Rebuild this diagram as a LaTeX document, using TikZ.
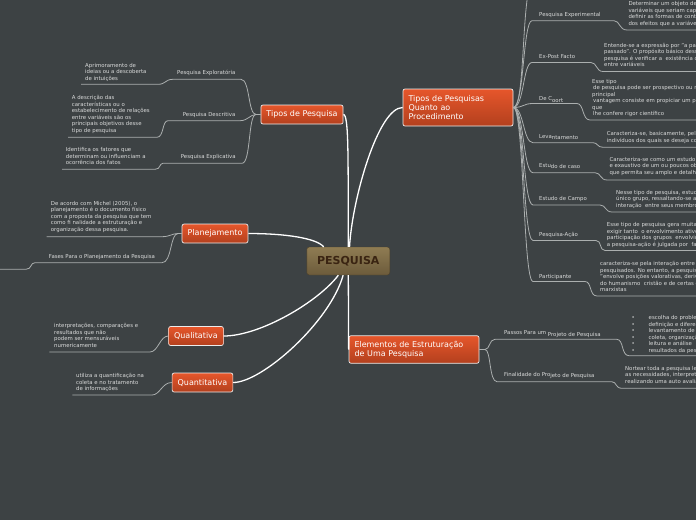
\documentclass[tikz,border=0pt]{standalone}
\usepackage{fontspec}
\setmainfont{DejaVu Sans}
\usepackage{tikz}
\usetikzlibrary{positioning}

\definecolor{slate}{HTML}{3D4244}
\definecolor{twigcol}{HTML}{ABAFAF}
\definecolor{notecol}{HTML}{D9DADA}
\definecolor{rustTop}{HTML}{E6562B}
\definecolor{rustBot}{HTML}{B3401E}
\definecolor{hubTop}{HTML}{8F7C53}
\definecolor{hubBot}{HTML}{6C5B3B}
\definecolor{hubInk}{HTML}{3A2412}

\newcommand{\lowpart}[1]{\raisebox{-1.3pt}{#1}}
\newcommand{\bul}{\makebox[17pt][l]{\textbullet}}

\begin{document}
\begin{tikzpicture}[
    x=1pt, y=-1pt,
    hub/.style={rectangle, draw=hubBot!70!black, rounded corners=2.5pt, top color=hubTop, bottom color=hubBot, minimum width=83pt, minimum height=28pt, font=\fontsize{11}{13}\selectfont\bfseries, text=hubInk},
    topic/.style={rectangle, draw=white!85!gray, line width=0.7pt, rounded corners=2pt, top color=rustTop, bottom color=rustBot, text=white, font=\fontsize{8}{9}\selectfont, inner xsep=5.5pt, minimum height=19pt},
    sublabel/.style={font=\fontsize{5.4}{6.5}\selectfont, text=notecol, inner sep=0pt, anchor=base west},
    notes/.style={sublabel, align=left, text depth=0pt, anchor=south west},
    twig/.style={draw=twigcol, line width=0.8pt},
    limb/.style={draw=white, line width=1.3pt},
]
    \fill[slate] (0,0) rectangle (696,520);
    \useasboundingbox (0,0) rectangle (696,520);
    \clip (0,0) rectangle (696,520);

    % centre and main topics
    \node[hub] (pesquisa) at (348.3,261) {PESQUISA};
    \node[topic] (tipos) at (302,114.5) {Tipos de Pesquisa};
    \node[topic, text width=99pt, align=left, minimum height=37pt] (proced) at (458,107.5) {Tipos de Pesquisas\\Quanto ao\\Procedimento};
    \node[topic] (planej) at (215,233.5) {Planejamento};
    \node[topic] (quali) at (196,336) {Qualitativa};
    \node[topic] (quanti) at (202.5,382.5) {Quantitativa};
    \node[topic, text width=119pt, align=left, minimum height=27.5pt] (elem) at (414,349.5) {Elementos de Estruturação\\de Uma Pesquisa};

    \draw[limb] (pesquisa.north) .. controls (348,160) and (349,114.5) .. (tipos.east);
    \draw[limb] (pesquisa.85) .. controls (352,200) and (378,107.5) .. (proced.west);
    \draw[limb] (planej.east) .. controls (285,233.5) and (316,238) .. (pesquisa.150);
    \draw[limb] (quali.east) .. controls (260,336) and (318,302) .. (pesquisa.235);
    \draw[limb] (quanti.east) .. controls (262,382.5) and (330,322) .. (pesquisa.250);
    \draw[limb] (pesquisa.south) -- (elem.west);

    % Tipos de Pesquisa
    \node[sublabel] (explo) at (177,74.8) {Pesquisa Exploratória};
    \node[notes] (explo-txt) at (85,80.5) {Aprimoramento de\\ideias ou a descoberta\\de intuições};
    \coordinate (explo-end) at (81,84.3);
    \draw[twig] (tipos.west) -- (256,114.5) .. controls (248,114.5) and (250,79.3) .. (241,79.3) -- (173,79.3) .. controls (165,79.3) and (166,84.3) .. (158,84.3) -- (explo-end);

    \node[sublabel] (descr) at (182.7,116.5) {Pesquisa Descritiva};
    \node[notes] (descr-txt) at (71.7,132.2) {A descrição das\\características ou o\\estabelecimento de relações\\entre variáveis são os\\principais objetivos desse\\tipo de pesquisa};
    \coordinate (descr-end) at (68,137.3);
    \draw[twig] (tipos.west) -- (256,114.5) .. controls (250,114.5) and (248,120.7) .. (240,120.7) -- (168,120.7) .. controls (162,120.7) and (164,137.3) .. (157,137.3) -- (descr-end);

    \node[sublabel] (expli) at (180.7,158.8) {Pesquisa Explicativa};
    \node[notes] (expli-txt) at (65.7,164.8) {Identifica os fatores que\\determinam ou influenciam a\\ocorrência dos fatos};
    \coordinate (expli-end) at (62,169.3);
    \draw[twig] (tipos.west) -- (256,114.5) .. controls (248,114.5) and (251,163.3) .. (242,163.3) -- (163,163.3) .. controls (159,163.3) and (161,169.3) .. (155,169.3) -- (expli-end);

    % Planejamento
    \node[notes] (michel-txt) at (50.7,231.5) {De acordo com Michel (2005), o\\planejamento é o documento físico\\com a proposta da pesquisa que tem\\como fi nalidade a estruturação e\\organização dessa pesquisa.};
    \coordinate (michel-end) at (46.7,236.7);
    \draw[twig] (planej.west) -- (178,233.5) .. controls (172,233.5) and (170,236.7) .. (162,236.7) -- (michel-end);

    \node[sublabel] (fases) at (48.7,258.2) {Fases Para o Planejamento da Pesquisa};
    \coordinate (fases-end) at (-5,269.3);
    \draw[twig] (planej.west) -- (178,233.5) .. controls (170,233.5) and (172,262.7) .. (162,262.7) -- (35,262.7) .. controls (30,262.7) and (32,269.3) .. (26,269.3) -- (fases-end);

    % Qualitativa / Quantitativa
    \node[notes] (quali-txt) at (54,347.5) {interpretações, comparações e\\resultados que não\\podem ser mensuráveis\\numericamente};
    \coordinate (quali-end) at (49.3,352);
    \draw[twig] (quali.west) .. controls (160,336) and (158,352) .. (150,352) -- (quali-end);

    \node[notes] (quanti-txt) at (76,390.8) {utiliza a quantificação na\\coleta e no tratamento\\de informações};
    \coordinate (quanti-end) at (72.3,395);
    \draw[twig] (quanti.west) .. controls (162,382.5) and (160,395) .. (152,395) -- (quanti-end);

    % Tipos de Pesquisas Quanto ao Procedimento
    \coordinate (above-end) at (529,-12);
    \draw[twig] (proced.east) .. controls (524,107.5) and (522,20) .. (above-end);

    \node[sublabel] (experim) at (539,16.2) {Pesquisa Experimental};
    \node[notes] (experim-txt) at (628.3,25.5) {Determinar um objeto de estudo, selecionar as\\variáveis que seriam capazes de influenciá-lo,\\definir as formas de controle e de observação\\dos efeitos que a variável produz no objeto.};
    \coordinate (experim-end) at (700,30);
    \draw[twig] (proced.east) .. controls (524,107.5) and (523,20.7) .. (532,20.7) -- (614,20.7) .. controls (620,20.7) and (619,30) .. (627,30) -- (experim-end);

    \node[sublabel] (expost) at (539,58) {Ex-Post Facto};
    \node[notes] (expost-txt) at (604,67) {Entende-se a expressão por "a partir do fato\\passado". O propósito básico desse tipo de\\pesquisa é verificar a~ existência de relações\\entre variáveis};
    \coordinate (expost-end) at (700,71.5);
    \draw[twig] (proced.east) .. controls (524,107.5) and (523,62.5) .. (532,62.5) -- (591,62.5) .. controls (597,62.5) and (596,71.5) .. (603,71.5) -- (expost-end);

    \node[sublabel] (coort) at (539,100.8) {De C\lowpart{oort}};
    \node[notes] (coort-txt) at (592,115.7) {Esse tipo\\\hspace*{1pt}de pesquisa pode ser prospectivo ou retrospectivo\\principal\\\hspace*{1pt}vantagem consiste em propiciar um padrão\\que\\\hspace*{1pt}lhe confere rigor científico};
    \coordinate (coort-end) at (700,120);
    \draw[twig] (proced.east) .. controls (524,107.5) and (523,103.5) .. (533,103.5) -- (577,103.5) .. controls (584,103.5) and (582,120) .. (590,120) -- (coort-end);

    \node[sublabel] (levant) at (539,138.5) {Leva\lowpart{ntamento}};
    \node[notes] (levant-txt) at (606.7,142.5) {Caracteriza-se, basicamente, pela interrogação direta\\indivíduos dos quais se deseja conhecer};
    \coordinate (levant-end) at (700,147.3);
    \draw[twig] (proced.east) .. controls (524,107.5) and (523,142.7) .. (533,142.7) -- (593,142.7) .. controls (598,142.7) and (597,147.3) .. (603,147.3) -- (levant-end);

    \node[sublabel] (caso) at (539,167) {Estu\lowpart{do de caso}};
    \node[notes] (caso-txt) at (609.3,174.5) {Caracteriza-se como um estudo profundo\\e exaustivo de um ou poucos objetos, de maneira\\que permita seu amplo e detalhado conhecimento};
    \coordinate (caso-end) at (700,180);
    \draw[twig] (proced.east) .. controls (524,107.5) and (523,172.7) .. (533,172.7) -- (595,172.7) .. controls (601,172.7) and (600,180) .. (607,180) -- (caso-end);

    \node[sublabel] (campo) at (539,200.8) {Estudo de Campo};
    \node[notes] (campo-txt) at (616,207.2) {Nesse tipo de pesquisa, estuda-se um\\único grupo, ressaltando-se a\\interação~ entre seus membros};
    \coordinate (campo-end) at (700,212);
    \draw[twig] (proced.east) .. controls (524,107.5) and (523,205) .. (533,205) -- (600,205) .. controls (606,205) and (605,212) .. (612,212) -- (campo-end);

    \node[sublabel] (acao) at (539,236.5) {Pesquisa-Ação};
    \node[notes] (acao-txt) at (606.7,246.5) {Esse tipo de pesquisa gera muitas discussões\\exigir tanto~ o envolvimento ativo\\participação dos grupos~ envolvidos\\a pesquisa-ação é julgada por~ falta};
    \coordinate (acao-end) at (700,250.5);
    \draw[twig] (proced.east) .. controls (524,107.5) and (523,240.5) .. (533,240.5) -- (596,240.5) .. controls (602,240.5) and (599,250.5) .. (605,250.5) -- (acao-end);

    \node[sublabel] (partic) at (539,278.2) {Participante};
    \node[notes] (partic-txt) at (600,292) {caracteriza-se pela interação entre pesquisadores e\\pesquisados. No entanto, a pesquisa participante\\"envolve posições valorativas, derivadas\\do humanismo~ cristão e de certas concepções\\marxistas};
    \coordinate (partic-end) at (700,296);
    \draw[twig] (proced.east) .. controls (524,107.5) and (523,281.5) .. (533,281.5) -- (585,281.5) .. controls (592,281.5) and (589,296) .. (597,296) -- (partic-end);

    % Elementos de Estruturacao
    \node[sublabel] (passos) at (504,334.8) {Passos Para um \lowpart{Projeto de Pesquisa}};
    \node[notes] (passos-txt) at (631.5,352.5) {\bul escolha do problema\\\bul definição e diferenciação\\\bul levantamento de dados\\\bul coleta, organização\\\bul leitura e análise\\\bul resultados da pesquisa};
    \coordinate (passos-end) at (700,355.7);
    \draw[twig] (elem.east) -- (485,349.5) .. controls (490,349.5) and (489,339.3) .. (495,339.3) -- (616.7,339.3) .. controls (624,339.3) and (621,355.7) .. (629,355.7) -- (passos-end);

    \node[sublabel] (final) at (504,376.5) {Finalidade do Pro\lowpart{jeto de Pesquisa}};
    \node[notes] (final-txt) at (625,383.2) {Nortear toda a pesquisa levando em conta\\as necessidades, interpretando\\realizando uma auto avaliação};
    \coordinate (final-end) at (700,388.3);
    \draw[twig] (elem.east) -- (485,349.5) .. controls (491,349.5) and (489,381.7) .. (497,381.7) -- (611.7,381.7) .. controls (617,381.7) and (615,388.3) .. (622,388.3) -- (final-end);
\end{tikzpicture}
\end{document}
